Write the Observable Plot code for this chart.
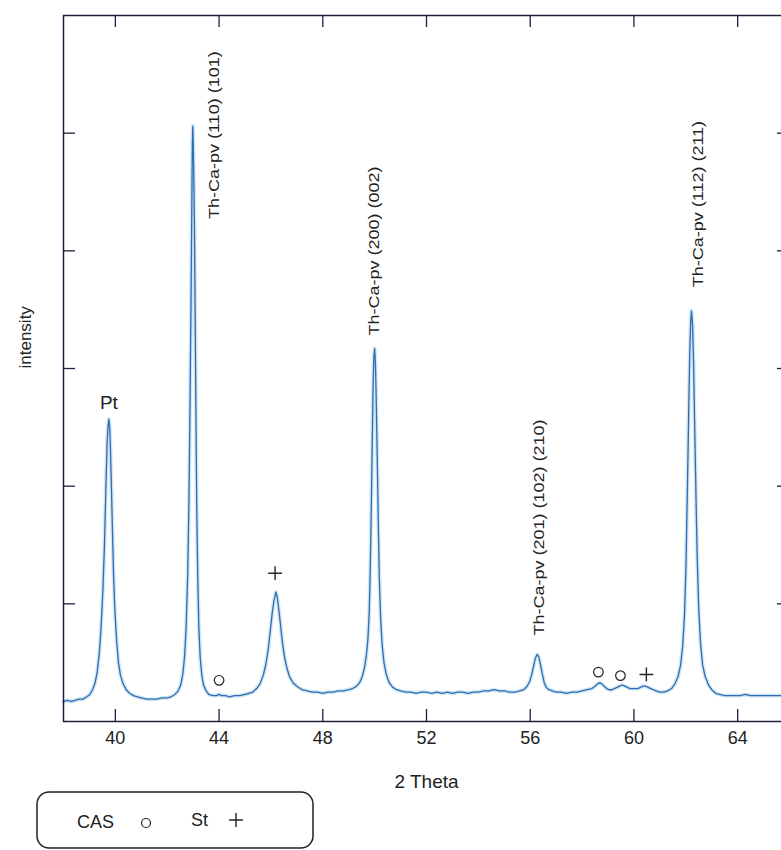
<!DOCTYPE html>
<html><head><meta charset="utf-8">
<script src="https://cdn.jsdelivr.net/npm/d3@7"></script>
<script src="https://cdn.jsdelivr.net/npm/@observablehq/plot@0.6"></script>
<style>
html,body{margin:0;padding:0;background:#fff;overflow:hidden;}
#wrap{position:relative;width:781px;height:850px;overflow:hidden;background:#fff;}
#chart{position:absolute;left:0;top:0;width:800px;}
#legend{position:absolute;left:0;top:0;pointer-events:none;}
</style></head><body>
<div id="wrap"><div id="chart"></div><svg id="legend" width="781" height="850"></svg></div>
<script>
// ---- data ----
const twoTheta = [38.0,38.15,38.3,38.45,38.6,38.75,38.9,39.02,39.12,39.22,39.3,39.38,39.45,39.52,39.58,39.63,39.68,39.72,39.75,39.78,39.81,39.85,39.89,39.93,39.98,40.05,40.12,40.2,40.3,40.42,40.55,40.7,40.85,41.0,41.2,41.4,41.6,41.8,42.0,42.15,42.3,42.42,42.52,42.6,42.67,42.73,42.79,42.84,42.88,42.92,42.95,42.97,42.985,43.0,43.02,43.05,43.08,43.11,43.14,43.18,43.22,43.27,43.33,43.4,43.5,43.6,43.75,43.9,44.0,44.1,44.25,44.4,44.6,44.8,45.0,45.15,45.3,45.45,45.58,45.7,45.8,45.9,45.98,46.05,46.12,46.19,46.24,46.3,46.37,46.45,46.53,46.62,46.72,46.85,47.0,47.2,47.4,47.6,47.8,48.0,48.2,48.4,48.6,48.8,49.0,49.15,49.3,49.42,49.52,49.61,49.68,49.74,49.79,49.83,49.87,49.91,49.94,49.97,50.0,50.03,50.06,50.1,50.14,50.18,50.23,50.29,50.36,50.45,50.56,50.7,50.85,51.0,51.2,51.4,51.6,51.8,52.0,52.2,52.4,52.6,52.8,53.0,53.2,53.4,53.6,53.8,54.0,54.2,54.4,54.6,54.8,55.0,55.2,55.4,55.6,55.75,55.88,55.98,56.06,56.13,56.2,56.27,56.33,56.4,56.47,56.54,56.62,56.72,56.85,57.0,57.2,57.4,57.6,57.8,58.0,58.2,58.38,58.5,58.6,58.68,58.76,58.85,58.95,59.05,59.15,59.25,59.35,59.45,59.55,59.65,59.75,59.85,59.95,60.05,60.15,60.25,60.35,60.45,60.55,60.65,60.75,60.85,61.0,61.15,61.3,61.45,61.58,61.7,61.8,61.88,61.95,62.01,62.06,62.11,62.15,62.19,62.22,62.26,62.3,62.34,62.39,62.44,62.5,62.57,62.65,62.75,62.88,63.0,63.15,63.3,63.5,63.7,63.9,64.1,64.3,64.5,64.7,64.9,65.2,65.5,65.8,66.0];
const intensity = [0.17,0.18,0.17,0.18,0.19,0.19,0.21,0.23,0.27,0.33,0.42,0.58,0.8,1.12,1.5,1.95,2.35,2.52,2.57,2.5,2.32,1.98,1.6,1.25,0.95,0.68,0.5,0.39,0.32,0.27,0.24,0.22,0.21,0.2,0.19,0.19,0.19,0.2,0.2,0.21,0.23,0.26,0.31,0.4,0.55,0.8,1.25,1.9,2.7,3.6,4.4,4.9,5.06,4.95,4.72,4.2,3.4,2.55,1.8,1.2,0.8,0.55,0.4,0.31,0.26,0.23,0.22,0.22,0.23,0.22,0.22,0.21,0.22,0.22,0.23,0.24,0.25,0.28,0.32,0.39,0.48,0.62,0.78,0.92,1.03,1.10,1.06,0.96,0.82,0.66,0.54,0.45,0.38,0.33,0.3,0.27,0.26,0.25,0.25,0.24,0.25,0.25,0.26,0.26,0.27,0.28,0.3,0.33,0.38,0.46,0.56,0.7,0.92,1.28,1.8,2.4,2.85,3.1,3.17,3.05,2.75,2.25,1.7,1.22,0.88,0.65,0.5,0.4,0.33,0.29,0.27,0.26,0.25,0.25,0.24,0.25,0.25,0.24,0.25,0.24,0.25,0.24,0.25,0.25,0.24,0.25,0.25,0.26,0.26,0.27,0.26,0.26,0.25,0.25,0.26,0.27,0.3,0.34,0.4,0.47,0.54,0.57,0.55,0.48,0.4,0.33,0.29,0.27,0.26,0.25,0.25,0.24,0.25,0.25,0.26,0.27,0.28,0.3,0.32,0.33,0.32,0.3,0.28,0.27,0.27,0.28,0.29,0.3,0.31,0.3,0.29,0.28,0.28,0.28,0.28,0.29,0.3,0.3,0.29,0.28,0.27,0.26,0.25,0.25,0.26,0.28,0.32,0.38,0.48,0.64,0.9,1.35,1.95,2.6,3.1,3.4,3.49,3.38,3.05,2.55,1.95,1.4,0.95,0.66,0.48,0.38,0.31,0.27,0.24,0.23,0.22,0.22,0.22,0.22,0.23,0.22,0.22,0.22,0.22,0.22,0.22,0.22];

const xTicks = [40, 44, 48, 52, 56, 60, 64];
const yTicks = [1, 2, 3, 4, 5];
const xLabel = "2 Theta";
const yLabel = "intensity";

const peakLabels = ["Th-Ca-pv (110) (101)", "Th-Ca-pv (200) (002)", "Th-Ca-pv (201) (102) (210)", "Th-Ca-pv (112) (211)"];
const peakLabelX = [43.83, 49.98, 56.35, 62.49];
const peakLabelY = [4.27, 3.28, 0.73, 3.69];

const ptLabel = ["Pt"];
const ptX = [39.75];
const ptY = [2.71];

const casX = [44.0, 58.63, 59.48];
const casY = [0.35, 0.42, 0.39];
const stX = [46.16, 60.48];
const stY = [1.26, 0.40];

const legendNames = ["CAS", "St"];

// ---- build ----
const curve = twoTheta.map((t, i) => ({t, v: intensity[i]}));
const cas = casX.map((x, i) => ({x, y: casY[i]}));
const st = stX.map((x, i) => ({x, y: stY[i]}));

const W = 800, H = 850, ML = 63, MR = 11, MT = 15, MB = 129;
const fw = W - ML - MR, fh = H - MT - MB;
const font = "'Liberation Sans', Arial, Helvetica, sans-serif";
const ink = "#222";
const axisInk = "#1c2040";
const lineColor = "#2d6db0";

const chart = Plot.plot({
  width: W, height: H,
  marginLeft: ML, marginRight: MR, marginTop: MT, marginBottom: MB,
  style: {fontFamily: font, background: "#fff", maxWidth: "none", overflow: "visible"},
  x: {domain: [38, 66], axis: null},
  y: {domain: [0, 6], axis: null},
  marks: [
    Plot.line(curve, {x: "t", y: "v", stroke: "#d3e6f6", strokeWidth: 4}),
    Plot.line(curve, {x: "t", y: "v", stroke: lineColor, strokeWidth: 1.3}),
    Plot.tickX(xTicks, {x: d => d, insetTop: fh - 12, stroke: axisInk, strokeWidth: 1.3}),
    Plot.tickX(xTicks, {x: d => d, insetBottom: fh - 12, stroke: axisInk, strokeWidth: 1.3}),
    Plot.tickY(yTicks, {y: d => d, insetRight: fw - 12, stroke: axisInk, strokeWidth: 1.3}),
    Plot.tickY(yTicks, {y: d => d, insetLeft: fw - 12, stroke: axisInk, strokeWidth: 1.3}),
    Plot.frame({stroke: axisInk, strokeWidth: 1.5}),
    Plot.text(xTicks, {x: d => d, frameAnchor: "bottom", dy: 22, text: d => String(d), fontSize: 18, fill: ink}),
    Plot.text([xLabel], {frameAnchor: "bottom", dy: 66, text: d => d, fontSize: 19, fill: ink}),
    Plot.text([yLabel], {frameAnchor: "left", dx: -38, rotate: -90, text: d => d, fontSize: 17, fill: ink}),
    Plot.text(peakLabels, {x: (d, i) => peakLabelX[i], y: (d, i) => peakLabelY[i], text: d => d, rotate: -90, textAnchor: "start", fontSize: 18, fill: ink}),
    Plot.text(ptLabel, {x: (d, i) => ptX[i], y: (d, i) => ptY[i], text: d => d, fontSize: 19, fill: ink}),
    Plot.dot(cas, {x: "x", y: "y", r: 4.8, symbol: "circle", stroke: ink, fill: "none", strokeWidth: 1.2}),
    Plot.dot(st, {x: "x", y: "y", r: 4.5, symbol: "plus", stroke: ink, strokeWidth: 1.4})
  ]
});
document.getElementById("chart").appendChild(chart);

// peak labels in the reference are narrow, stretched glyphs: keep length, thin the glyphs
d3.select(chart).selectAll("text").each(function() {
  const t = this.textContent || "";
  if (t.startsWith("Th-Ca")) {
    const len = this.getComputedTextLength();
    d3.select(this).attr("font-size", 15).style("font-size", "15px")
      .attr("textLength", len).attr("lengthAdjust", "spacingAndGlyphs");
  }
});

// ---- legend box below the axes ----
const lg = d3.select("#legend");
const g = lg.append("g").attr("font-family", font).attr("fill", ink).attr("font-size", 18);
g.append("rect").attr("x", 37).attr("y", 792).attr("width", 276).attr("height", 56)
  .attr("rx", 12).attr("fill", "#fff").attr("stroke", ink).attr("stroke-width", 1.5);
g.append("text").attr("x", 77).attr("y", 822).attr("dy", "0.35em").text(legendNames[0]);
g.append("circle").attr("cx", 146).attr("cy", 823).attr("r", 4.5).attr("fill", "none").attr("stroke", ink).attr("stroke-width", 1.2);
g.append("text").attr("x", 191).attr("y", 820).attr("dy", "0.35em").text(legendNames[1]);
g.append("path").attr("d", d3.symbol(d3.symbolPlus, 64)()).attr("transform", "translate(236,820)")
  .attr("fill", "none").attr("stroke", ink).attr("stroke-width", 1.4);
</script>
</body></html>
